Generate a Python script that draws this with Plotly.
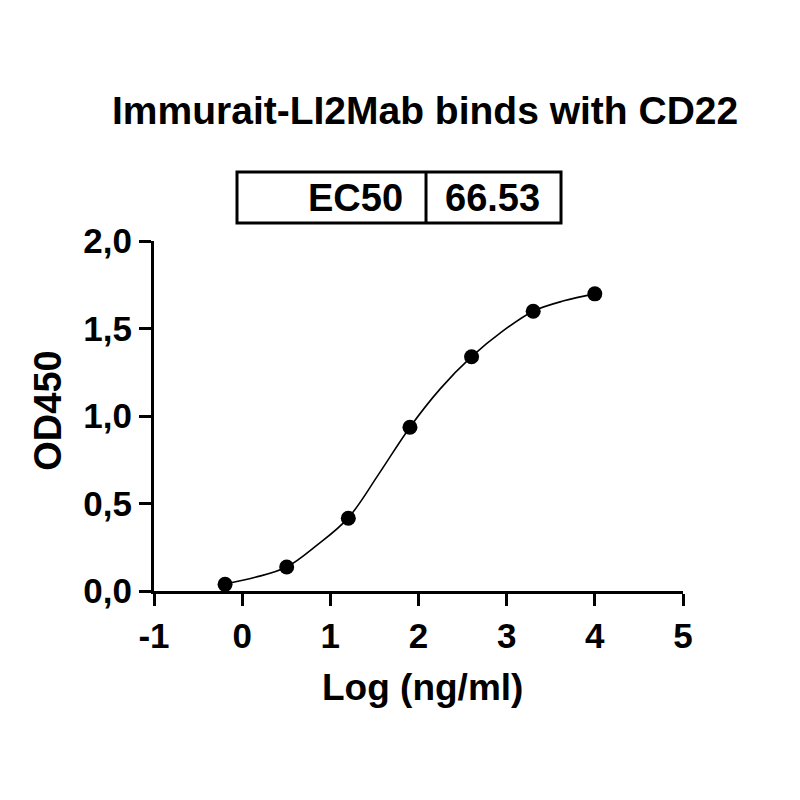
import plotly.graph_objects as go

# log10 of concentration (ng/ml) and OD450 readings
log_conc = [-0.194, 0.505, 1.204, 1.903, 2.602, 3.301, 4.0]
od450 = [0.038, 0.137, 0.416, 0.936, 1.339, 1.599, 1.698]

# fitted curve
fit_x = [-0.194, 0.148, 0.505, 0.849, 1.204, 1.549, 1.903, 2.246, 2.602, 2.947, 3.301, 3.648, 4.0]
fit_y = [0.040, 0.078, 0.137, 0.262, 0.418, 0.668, 0.936, 1.155, 1.339, 1.482, 1.599, 1.658, 1.698]

ec50_label = "EC50"
ec50_value = "66.53"

x_ticks = [-1, 0, 1, 2, 3, 4, 5]
x_ticktext = ["-1", "0", "1", "2", "3", "4", "5"]
y_ticks = [0.0, 0.5, 1.0, 1.5, 2.0]

font_main = "Liberation Sans, Arial, sans-serif"

fig = go.Figure()

fig.add_trace(go.Scatter(
    x=fit_x, y=fit_y,
    mode="lines",
    line=dict(color="black", width=1.6, shape="spline", smoothing=1.0),
    hoverinfo="skip",
    showlegend=False,
))

fig.add_trace(go.Scatter(
    x=log_conc, y=od450,
    mode="markers",
    marker=dict(color="black", size=15),
    showlegend=False,
    cliponaxis=False,
))

axis_common = dict(
    showgrid=False, zeroline=False,
    showline=True, linecolor="black", linewidth=3,
    ticks="outside", ticklen=12, tickwidth=3, tickcolor="black",
    tickfont=dict(family=font_main, size=35, color="black", weight="bold"),
)

fig.update_xaxes(range=[-1, 5], tickvals=x_ticks, ticktext=x_ticktext, **axis_common)
fig.update_yaxes(range=[0, 2], tickvals=y_ticks, tickformat=".1f", **axis_common)

# EC50 table box above the plot
box_x0, box_xm, box_x1 = 0.1569, 0.5142, 0.7694
box_y0, box_y1 = 1.0514, 1.1971
fig.add_shape(type="rect", xref="paper", yref="paper",
              x0=box_x0, x1=box_x1, y0=box_y0, y1=box_y1,
              line=dict(color="black", width=3))
fig.add_shape(type="line", xref="paper", yref="paper",
              x0=box_xm, x1=box_xm, y0=box_y0, y1=box_y1,
              line=dict(color="black", width=3))

text_font = dict(family=font_main, size=38, color="black", weight="bold")

fig.add_annotation(text=ec50_label, xref="paper", yref="paper",
                   x=0.4745, y=1.124, xanchor="right", yanchor="middle",
                   showarrow=False, font=text_font)
fig.add_annotation(text=ec50_value, xref="paper", yref="paper",
                   x=0.6408, y=1.124, xanchor="center", yanchor="middle",
                   showarrow=False, font=text_font)

# title and axis titles
fig.add_annotation(text="Immurait-LI2Mab binds with CD22", xref="paper", yref="paper",
                   x=0.5123, y=1.374, xanchor="center", yanchor="middle",
                   showarrow=False, font=dict(family=font_main, size=39, color="black", weight="bold"))
fig.add_annotation(text="OD450", xref="paper", yref="paper",
                   x=-0.2004, y=0.515, xanchor="center", yanchor="middle", textangle=-90,
                   showarrow=False, font=text_font)
fig.add_annotation(text="Log (ng/ml)", xref="paper", yref="paper",
                   x=0.507, y=-0.277, xanchor="center", yanchor="middle",
                   showarrow=False, font=dict(family=font_main, size=37, color="black", weight="bold"))

# the page body has an 8px margin, so margins are shifted by 8px
fig.update_layout(
    width=800, height=800,
    margin=dict(l=146, r=125, t=233, b=217),
    plot_bgcolor="white", paper_bgcolor="white",
    separators=",.",
    showlegend=False,
)

fig.write_html("out.html")
